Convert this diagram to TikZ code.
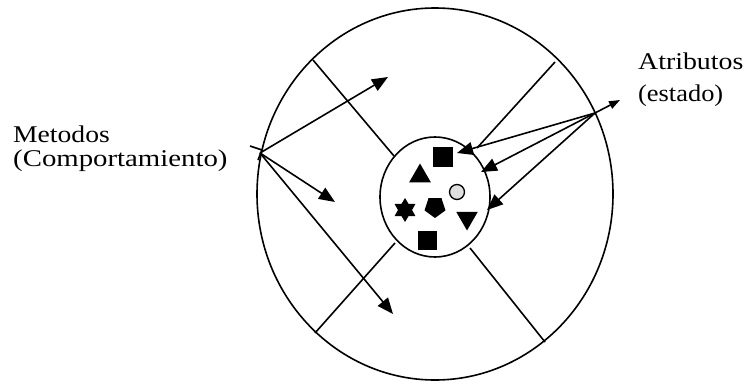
\documentclass[tikz,border=0pt]{standalone}
\usepackage{fontspec}
\setmainfont{Liberation Serif}
\usetikzlibrary{arrows.meta,shapes.geometric}
\begin{document}
\begin{tikzpicture}[x=1pt,y=-1pt,
  ln/.style={line width=1.6pt},
  arr/.style={ln,-{Triangle[length=16pt,width=13pt]}},
  lbl/.style={font=\fontsize{24}{26}\selectfont, inner sep=0pt, anchor=base west},
  blk/.style={fill=black, draw=none, inner sep=0pt}]
\useasboundingbox (0,0) rectangle (747,383);
% outer and inner
\node[ellipse, draw, ln, minimum width=356pt, minimum height=372pt, inner sep=0pt, outer sep=0pt] (outer) at (435,194) {};
\node[ellipse, draw, ln, minimum width=110pt, minimum height=120pt, inner sep=0pt, outer sep=0pt] (inner) at (435,197) {};
% radial dividers
\coordinate (ul1) at (313,60);  \coordinate (ul2) at (394,156);
\coordinate (ur1) at (555,62);  \coordinate (ur2) at (477,148);
\coordinate (ll1) at (395,243); \coordinate (ll2) at (315,333);
\coordinate (lr1) at (470,248); \coordinate (lr2) at (545,342);
\draw[ln] (ul1) -- (ul2);
\draw[ln] (ur1) -- (ur2);
\draw[ln] (ll1) -- (ll2);
\draw[ln] (lr1) -- (lr2);
% shapes inside
\node[blk, minimum size=20pt] (sq1) at (443,157) {};
\node[blk, minimum size=19pt] (sq2) at (427,240) {};
\node[blk, regular polygon, regular polygon sides=3, minimum size=25pt] (tu) at (420,176) {};
\node[blk, regular polygon, regular polygon sides=3, shape border rotate=180, minimum size=25pt] (td) at (467,218) {};
\node[blk, star, star points=6, star point ratio=1.7, minimum size=24pt] (hx) at (405,210) {};
\node[blk, regular polygon, regular polygon sides=5, shape border rotate=180, minimum size=22pt] (pt) at (435,207) {};
\node[draw, line width=1.3pt, fill=black!12, circle, minimum size=15pt, inner sep=0pt] (fl) at (457,192) {};
% labels
\node[lbl] (met) at (13,142) {\scalebox{1.15}[1]{Metodos}};
\node[lbl] (comp) at (13,166) {\scalebox{1.2}[1]{(Comportamiento)}};
\node[lbl] (atr) at (638,69) {\scalebox{1.16}[1]{Atributos}};
\node[lbl] (est) at (638,101) {\scalebox{1.1}[1]{(estado)}};
% method arrows
\coordinate (mo) at (260,153);
\coordinate (m1) at (388,77);
\coordinate (m2) at (335,202);
\coordinate (m3) at (393,314);
\draw[arr] (mo) -- (m1);
\draw[arr] (mo) -- (m2);
\draw[arr] (mo) -- (m3);
\draw[ln] (250,146) -- (262,150) -- (258,160);
% attribute arrows
\coordinate (ao) at (595,113);
\coordinate (a1) at (457,153);
\coordinate (a2) at (481,172);
\coordinate (a3) at (487,210);
\coordinate (a0) at (620,100);
\draw[arr] (ao) -- (a1);
\draw[arr] (ao) -- (a2);
\draw[arr] (ao) -- (a3);
\draw[ln,-{Triangle[length=11pt,width=8pt]}] (ao) -- (a0);
\end{tikzpicture}
\end{document}
